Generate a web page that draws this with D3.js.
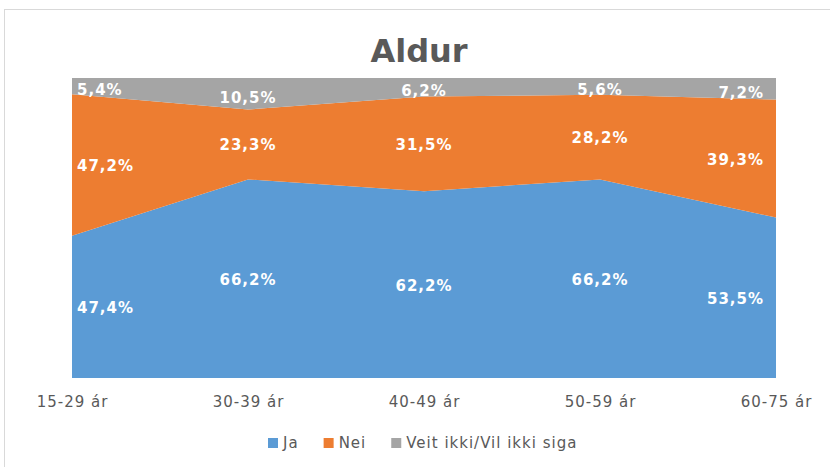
<!DOCTYPE html>
<html>
<head>
<meta charset="utf-8">
<script src="https://cdn.jsdelivr.net/npm/d3@7"></script>
<style>
  body { margin: 0; background: #fff; }
  .axis-label, .legend-text { font-family: "DejaVu Sans", sans-serif; fill: #595959; font-size: 15px; letter-spacing: 1px; }
  .data-label { font-family: "DejaVu Sans", sans-serif; font-weight: bold; fill: #fff; font-size: 15px; letter-spacing: 1px; }
</style>
</head>
<body>
<svg id="chart"></svg>
<script>
// data
const categories = ['15-29 ár', '30-39 ár', '40-49 ár', '50-59 ár', '60-75 ár'];
const seriesNames = ['Ja', 'Nei', 'Veit ikki/Vil ikki siga'];
const ja = [47.4, 66.2, 62.2, 66.2, 53.5];
const nei = [47.2, 23.3, 31.5, 28.2, 39.3];
const veit = [5.4, 10.5, 6.2, 5.6, 7.2];
const colors = ['#5b9bd5', '#ed7d31', '#a5a5a5'];

const width = 830, height = 467;
const margin = {top: 78, right: 54, bottom: 89, left: 72};
const innerW = width - margin.left - margin.right;
const innerH = height - margin.top - margin.bottom;

const svg = d3.select('#chart').attr('width', width).attr('height', height);

// chart frame
svg.append('rect')
  .attr('x', 4.5).attr('y', 9.5)
  .attr('width', 840).attr('height', 480)
  .attr('fill', 'none').attr('stroke', '#d9d9d9');

svg.append('text')
  .attr('x', 419).attr('y', 62)
  .attr('text-anchor', 'middle')
  .style('font-family', '"DejaVu Sans", sans-serif')
  .style('font-weight', 'bold')
  .style('font-size', '32px')
  .style('fill', '#595959')
  .text('Aldur');

const table = categories.map((c, i) => ({cat: c, Ja: ja[i], Nei: nei[i], Veit: veit[i]}));
const keys = ['Ja', 'Nei', 'Veit'];
const series = d3.stack().keys(keys).offset(d3.stackOffsetExpand)(table);

const x = d3.scalePoint().domain(categories).range([0, innerW]);
const y = d3.scaleLinear().domain([0, 1]).range([innerH, 0]);

const chart = svg.append('g').attr('transform', `translate(${margin.left},${margin.top})`);

const area = d3.area()
  .x(d => x(d.data.cat))
  .y0(d => y(d[0]))
  .y1(d => y(d[1]));

chart.selectAll('.layer')
  .data(series)
  .join('path')
  .attr('class', 'layer')
  .attr('fill', (d, i) => colors[i])
  .attr('d', area);

// data labels, first and last kept inside the plot like excel does
const fmt = v => v.toFixed(1).replace('.', ',') + '%';
const last = categories.length - 1;
series.forEach((s, si) => {
  chart.selectAll('.lbl' + si)
    .data(s)
    .join('text')
    .attr('class', 'data-label')
    .attr('x', (d, i) => i === 0 ? 5 : (i === last ? innerW - 12 : x(d.data.cat)))
    .attr('y', d => y((d[0] + d[1]) / 2) + (si === 2 ? 4 : 1))
    .attr('dominant-baseline', 'central')
    .attr('text-anchor', (d, i) => i === 0 ? 'start' : (i === last ? 'end' : 'middle'))
    .text(d => fmt(d.data[keys[si]]));
});

// x axis labels
const xAxis = d3.axisBottom(x).tickSize(0).tickPadding(18);
const xg = chart.append('g').attr('transform', `translate(0,${innerH})`).call(xAxis);
xg.select('.domain').remove();
xg.selectAll('text').attr('class', 'axis-label').attr('font-size', null).attr('font-family', null);

// legend, laid out left to right
const legend = svg.append('g');
let lx = 268;
seriesNames.forEach((n, i) => {
  legend.append('rect')
    .attr('x', lx).attr('y', 438)
    .attr('width', 10).attr('height', 10)
    .attr('fill', colors[i]);
  const t = legend.append('text')
    .attr('class', 'legend-text')
    .attr('x', lx + 15).attr('y', 448)
    .text(n);
  lx += 15 + t.node().getComputedTextLength() + 25;
});
</script>
</body>
</html>
